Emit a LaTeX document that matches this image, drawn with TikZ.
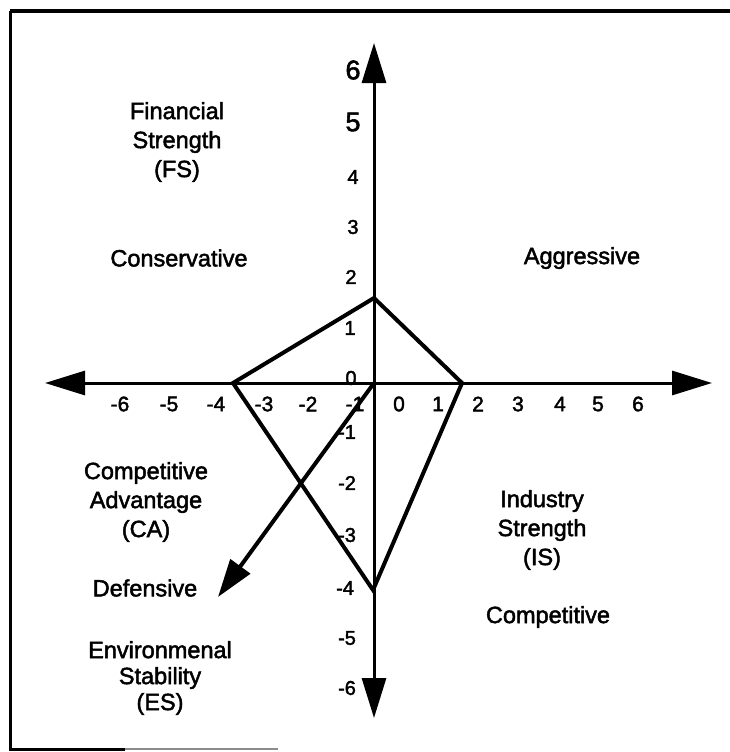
\documentclass[tikz,border=0pt]{standalone}
\usepackage{fontspec}
\setmainfont{Liberation Sans}
\newfontfamily\scanfont{Liberation Sans}[FakeBold=2]
\usetikzlibrary{arrows.meta}
\begin{document}
\begin{tikzpicture}[x=1pt,y=-1pt,
  word/.style={font=\scanfont\fontsize{23.5}{29}\selectfont, align=center, inner sep=0pt},
  bignum/.style={font=\scanfont\fontsize{27}{27}\selectfont, inner sep=0pt},
  vnum/.style={font=\scanfont\fontsize{20}{20}\selectfont, inner sep=0pt},
  hnum/.style={font=\scanfont\fontsize{21}{21}\selectfont, inner sep=0pt},
  axis/.style={line width=3pt, -{Triangle[length=40pt,width=24pt]}},
  kite/.style={line width=4pt, line join=miter},
  frameline/.style={line width=3.5pt}]
\useasboundingbox (0,0) rectangle (730,752);
% frame
\coordinate (f1) at (10,11);
\coordinate (f2) at (730,11);
\coordinate (f3) at (10,749);
\coordinate (f4) at (125,749);
\coordinate (f5) at (278,749);
\draw[frameline] (f1) -- (f2);
\draw[line width=3pt] (f1) -- (f3) -- (f4);
\draw[line width=1.5pt, black!45] (f4) -- (f5);
% quadrant words
\node[word] (fs) at (177,142) {Financial\\Strength\\(FS)};
\node[word] (cons) at (179,258) {Conservative};
\node[word] (aggr) at (582,258) {Aggressive};
\node[word] (ca) at (146,502) {Competitive\\Advantage\\(CA)};
\node[word] (def) at (145,588) {Defensive};
\node[word, font=\scanfont\fontsize{23.5}{26}\selectfont] (es) at (160,678) {Environmenal\\Stability\\(ES)};
\node[word] (is) at (542,530) {Industry\\Strength\\(IS)};
\node[word] (comp) at (548,617) {Competitive};
% vertical tick labels
\node[bignum] (v6) at (353,70) {6};
\node[bignum] (v5) at (353,122) {5};
\node[vnum] (v4) at (353,177) {4};
\node[vnum] (v3) at (353,227) {3};
\node[vnum] (v2) at (351,277) {2};
\node[vnum] (v1) at (350,328) {1};
\node[vnum] (v0) at (351,378) {0};
\node[vnum] (vm1) at (347,432) {-1};
\node[vnum] (vm2) at (347,483) {-2};
\node[vnum] (vm3) at (347,535) {-3};
\node[vnum] (vm4) at (345,588) {-4};
\node[vnum] (vm5) at (347,638) {-5};
\node[vnum] (vm6) at (347,688) {-6};
% horizontal tick labels
\node[hnum] (hm6) at (120,404) {-6};
\node[hnum] (hm5) at (169,404) {-5};
\node[hnum] (hm4) at (216,404) {-4};
\node[hnum] (hm3) at (264,404) {-3};
\node[hnum] (hm2) at (308,404) {-2};
\node[hnum] (hm1) at (355,404) {-1};
\node[hnum] (h0) at (399,404) {0};
\node[hnum] (h1) at (438,404) {1};
\node[hnum] (h2) at (478,404) {2};
\node[hnum] (h3) at (518,404) {3};
\node[hnum] (h4) at (560,404) {4};
\node[hnum] (h5) at (598,404) {5};
\node[hnum] (h6) at (638,404) {6};
% axes
\coordinate (O) at (374,383);
\coordinate (xl) at (45,383);
\coordinate (xr) at (712,383);
\coordinate (yt) at (374,43);
\coordinate (yb) at (374,718);
\draw[axis] (O) -- (xl);
\draw[axis] (O) -- (xr);
\draw[axis] (O) -- (yt);
\draw[axis] (O) -- (yb);
% kite
\coordinate (T) at (374,298);
\coordinate (R) at (462,383);
\coordinate (B) at (373,590);
\coordinate (L) at (233,383);
\draw[kite] (L) -- (T) -- (R) -- (B) -- cycle;
% diagonal arrow
\coordinate (D) at (218,597);
\draw[line width=4pt, -{Triangle[length=38pt,width=24pt]}] (O) -- (D);
\end{tikzpicture}
\end{document}
